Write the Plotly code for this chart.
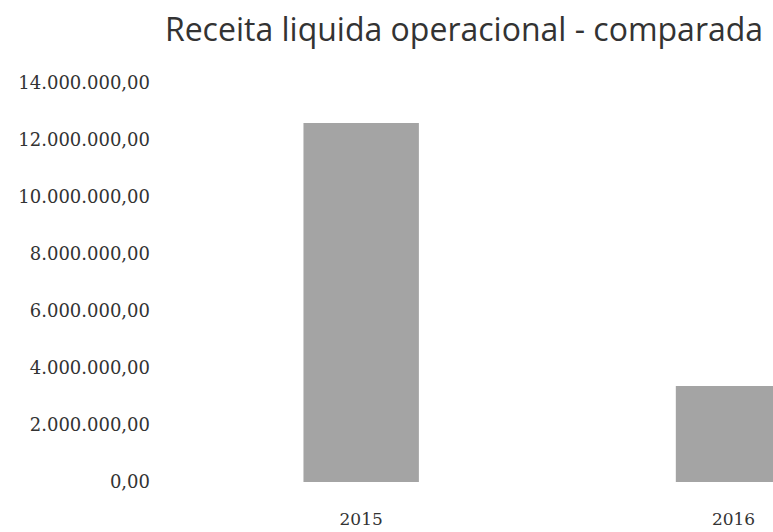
import plotly.graph_objects as go

# Net operating revenue per year
years = ["2015", "2016"]
receita = [12600000, 3370000]
positions = [0, 1]

y_ticks = [0, 2000000, 4000000, 6000000, 8000000, 10000000, 12000000, 14000000]

fig = go.Figure(
    go.Bar(
        x=positions,
        y=receita,
        width=0.31,
        marker=dict(color="#a4a4a4", line=dict(width=0)),
        hoverinfo="skip",
    )
)

fig.update_layout(
    width=773,
    height=532,
    margin=dict(l=175, r=0, t=83, b=50),
    paper_bgcolor="white",
    plot_bgcolor="white",
    separators=",.",
    showlegend=False,
    title=dict(
        text="Receita liquida operacional - comparada",
        font=dict(family="Open Sans", size=32, color="#333333"),
        x=464 / 773,
        xanchor="center",
        y=1 - 30 / 532,
        yanchor="middle",
    ),
    xaxis=dict(
        range=[-0.5, 1.106],
        tickvals=positions,
        ticktext=years,
        showgrid=False,
        zeroline=False,
        showline=False,
        ticks="",
        automargin=False,
        ticklabelstandoff=25,
        tickfont=dict(family="DejaVu Serif", size=17, color="#333333"),
    ),
    yaxis=dict(
        range=[0, 14000000],
        tickvals=y_ticks,
        tickformat=",.2f",
        showgrid=False,
        zeroline=False,
        showline=False,
        ticks="",
        automargin=False,
        ticklabelstandoff=24,
        tickfont=dict(family="DejaVu Serif", size=18, color="#333333"),
    ),
)

fig.write_html("out.html")
